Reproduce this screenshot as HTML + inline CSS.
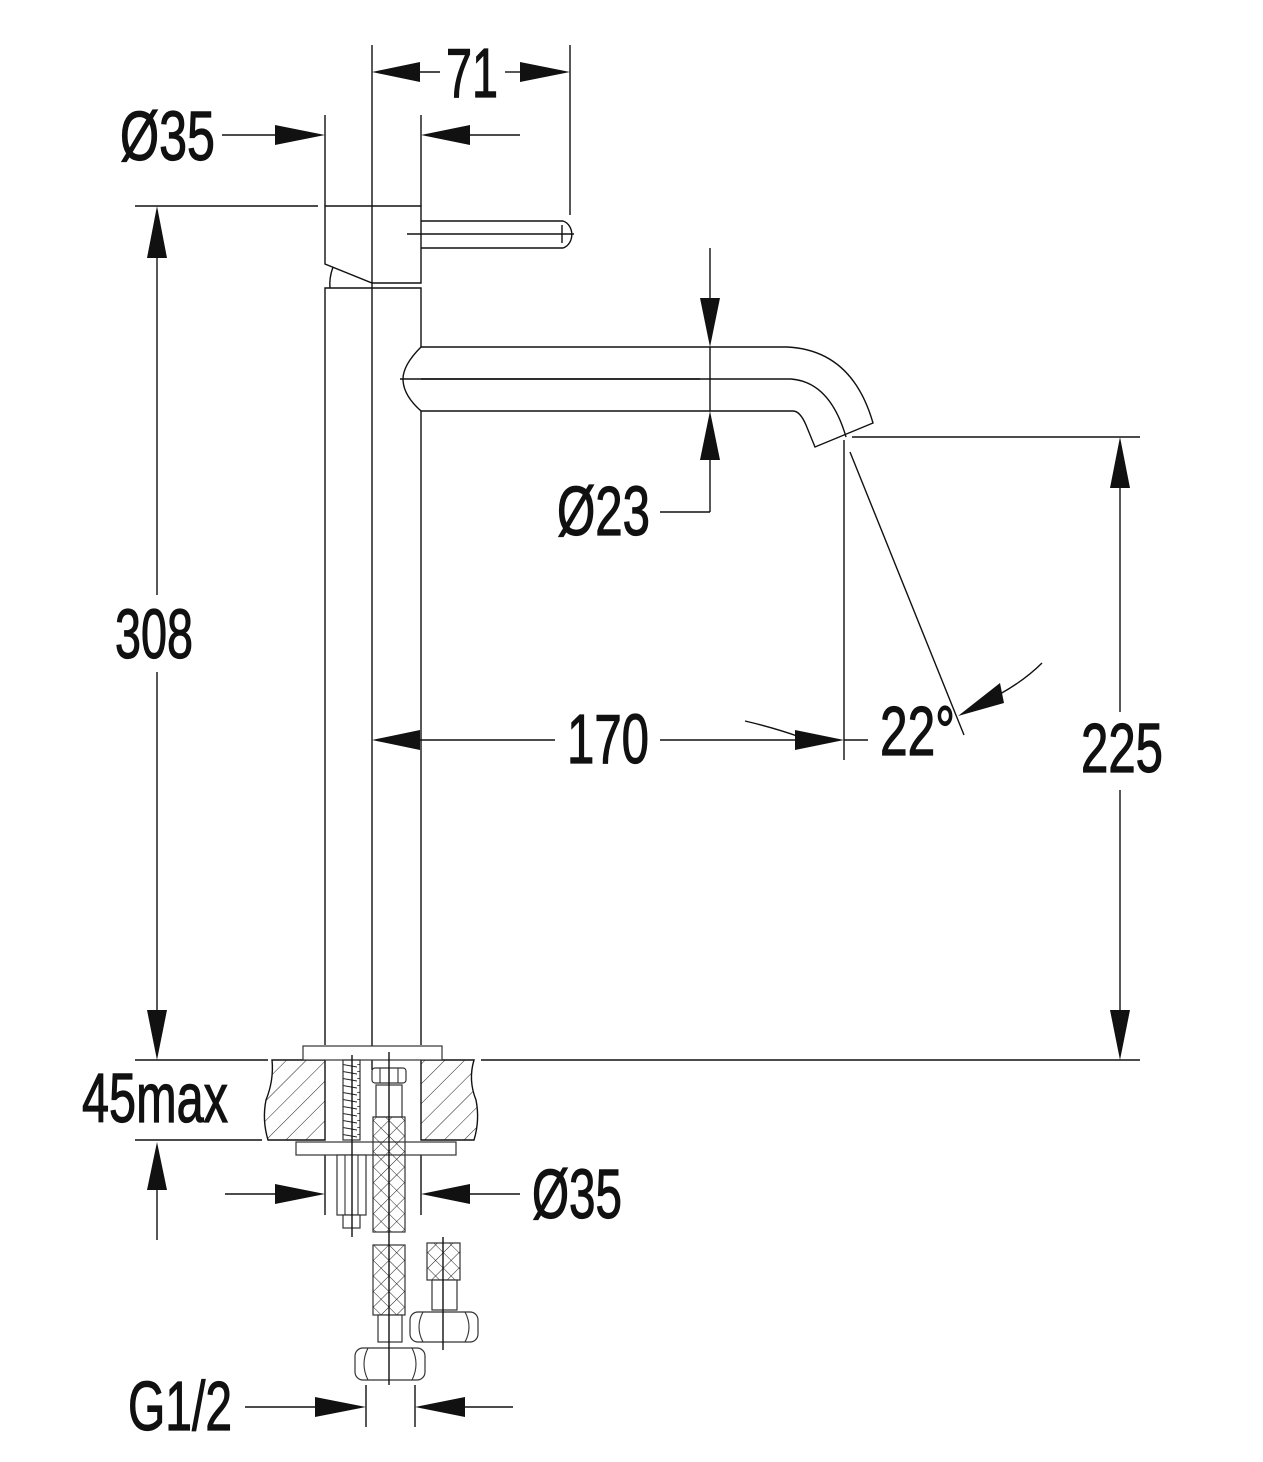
<!DOCTYPE html>
<html><head><meta charset="utf-8"><style>html,body{margin:0;padding:0;background:#fff}svg{display:block}</style></head>
<body>
<svg width="1263" height="1462" viewBox="0 0 1263 1462" xmlns="http://www.w3.org/2000/svg">
<defs>
<pattern id="h" width="14" height="14" patternUnits="userSpaceOnUse" patternTransform="rotate(45)">
<line x1="0" y1="0" x2="0" y2="14" stroke="#222" stroke-width="1"/></pattern>
<pattern id="x" width="11" height="11" patternUnits="userSpaceOnUse" patternTransform="rotate(45)">
<line x1="0" y1="0" x2="0" y2="11" stroke="#222" stroke-width="1"/><line x1="0" y1="0" x2="11" y2="0" stroke="#222" stroke-width="1"/></pattern>
<pattern id="t" width="17" height="7" patternUnits="userSpaceOnUse">
<line x1="0" y1="0" x2="17" y2="3" stroke="#222" stroke-width="1"/></pattern>
</defs>
<g fill="none" stroke="#111" stroke-width="1.4">
<path d="M325 206 H421 V283 H372 L325 264 Z"/>
<path d="M421 221 H563 A12 14 0 0 1 563 248 H421"/>
<line x1="562" y1="225" x2="562" y2="243"/>
<path d="M333 267 Q329 278 330 288"/>
<path d="M325 1045 V288 H421 V347"/>
<path d="M421 411 V1045"/>
<path d="M421 347 Q403 365 403 379 Q403 395 421 411"/>
<path d="M421 347 H787 Q852 350 873 423 L815 447 L806 425 Q800 411 793 411 H421"/>
<path d="M421 379 H791 Q830 382 846 437"/>
<line x1="372" y1="45" x2="372" y2="1070"/>
<line x1="400" y1="379" x2="700" y2="379"/>
<line x1="407" y1="234" x2="574" y2="234"/>
<line x1="570" y1="45" x2="570" y2="215"/>
<line x1="420" y1="72" x2="440" y2="72"/><line x1="505" y1="72" x2="520" y2="72"/>
<line x1="325" y1="115" x2="325" y2="206"/><line x1="421" y1="115" x2="421" y2="206"/>
<line x1="222" y1="135" x2="275" y2="135"/><line x1="470" y1="135" x2="520" y2="135"/>
<line x1="135" y1="206" x2="318" y2="206"/>
<line x1="157" y1="258" x2="157" y2="595"/><line x1="157" y1="672" x2="157" y2="1010"/>
<line x1="710" y1="248" x2="710" y2="298"/><line x1="710" y1="347" x2="710" y2="411"/>
<line x1="710" y1="460" x2="710" y2="512"/><line x1="660" y1="512" x2="710" y2="512"/>
<line x1="852" y1="437" x2="1140" y2="437"/>
<line x1="1120" y1="488" x2="1120" y2="712"/><line x1="1120" y1="790" x2="1120" y2="1010"/>
<line x1="844" y1="440" x2="844" y2="760"/>
<line x1="850" y1="452" x2="964" y2="735"/>
<line x1="420" y1="740" x2="555" y2="740"/><line x1="660" y1="740" x2="795" y2="740"/>
<line x1="844" y1="740" x2="868" y2="740"/>
<path d="M745 721 Q775 728 800 737"/>
<path d="M1042 663 Q1025 680 1000 694"/>
<line x1="135" y1="1060" x2="268" y2="1060"/><line x1="481" y1="1060" x2="1140" y2="1060"/>
<line x1="135" y1="1140" x2="262" y2="1140"/>
<line x1="157" y1="1190" x2="157" y2="1240"/>
<line x1="325" y1="1155" x2="325" y2="1215"/><line x1="421" y1="1155" x2="421" y2="1215"/>
<line x1="225" y1="1194" x2="275" y2="1194"/><line x1="470" y1="1194" x2="520" y2="1194"/>
<line x1="366" y1="1385" x2="366" y2="1427"/><line x1="415" y1="1385" x2="415" y2="1427"/>
<line x1="245" y1="1407" x2="315" y2="1407"/><line x1="465" y1="1407" x2="513" y2="1407"/>
</g>
<path d="M272 1060 H325 V1140 H268 Q262 1120 266 1100 Q274 1080 272 1060 Z" fill="url(#h)" stroke="#111" stroke-width="1.4"/>
<path d="M421 1060 H474 Q468 1080 476 1100 Q480 1120 474 1140 H421 Z" fill="url(#h)" stroke="#111" stroke-width="1.4"/>
<g fill="#fff" stroke="#333" stroke-width="1.2">
<rect x="303" y="1046" width="139" height="14"/>
<rect x="296" y="1142" width="160" height="13"/>
<rect x="343" y="1060" width="17" height="80" fill="url(#t)"/>
<rect x="372" y="1068" width="34" height="15" rx="3"/>
<rect x="376" y="1085" width="26" height="32"/>
<rect x="373" y="1117" width="32" height="115" fill="url(#x)"/>
<rect x="337" y="1155" width="29" height="60"/>
<rect x="343" y="1215" width="17" height="13"/>
<rect x="373" y="1245" width="32" height="70" fill="url(#x)"/>
<rect x="378" y="1315" width="24" height="27"/>
<rect x="355" y="1348" width="70" height="32" rx="8"/>
<rect x="427" y="1243" width="33" height="37" fill="url(#x)"/>
<rect x="432" y="1280" width="25" height="30"/>
<rect x="410" y="1312" width="68" height="30" rx="8"/>
</g>
<g fill="none" stroke="#333" stroke-width="1.1">
<path d="M368 1348 Q360 1364 368 1380 M412 1348 Q420 1364 412 1380"/>
<path d="M423 1312 Q415 1327 423 1342 M465 1312 Q473 1327 465 1342"/>
<path d="M380 1068 V1083 M398 1068 V1083"/>
<path d="M345 1155 V1215 M358 1155 V1215"/>
</g>
<line x1="389" y1="1052" x2="389" y2="1385" stroke="#111" stroke-width="1.4"/>
<line x1="443" y1="1237" x2="443" y2="1350" stroke="#111" stroke-width="1.4"/>
<line x1="352" y1="1055" x2="352" y2="1237" stroke="#111" stroke-width="1.4"/>
<g fill="#111">
<polygon points="372,72 420,62 420,82"/><polygon points="570,72 520,62 520,82"/>
<polygon points="325,135 275,125 275,145"/><polygon points="421,135 470,125 470,145"/>
<polygon points="157,206 147,258 167,258"/><polygon points="157,1060 147,1010 167,1010"/>
<polygon points="710,347 700,298 720,298"/><polygon points="710,411 700,460 720,460"/>
<polygon points="1120,437 1110,488 1130,488"/><polygon points="1120,1060 1110,1010 1130,1010"/>
<polygon points="372,740 420,730 420,750"/><polygon points="844,740 795,730 795,750"/>
<polygon points="958,716 1000,683 1004,703"/>
<polygon points="157,1142 147,1190 167,1190"/>
<polygon points="325,1194 275,1184 275,1204"/><polygon points="421,1194 470,1184 470,1204"/>
<polygon points="366,1407 315,1397 315,1417"/><polygon points="415,1407 465,1397 465,1417"/>
</g>
<g font-family="Liberation Sans, sans-serif" font-size="70" fill="#111" stroke="#111" stroke-width="1.2">
<text x="446" y="97" textLength="52" lengthAdjust="spacingAndGlyphs">71</text>
<text x="120" y="160" textLength="95" lengthAdjust="spacingAndGlyphs">Ø35</text>
<text x="115" y="658" textLength="78" lengthAdjust="spacingAndGlyphs">308</text>
<text x="557" y="535" textLength="93" lengthAdjust="spacingAndGlyphs">Ø23</text>
<text x="567" y="763" textLength="82" lengthAdjust="spacingAndGlyphs">170</text>
<text x="880" y="755" textLength="75" lengthAdjust="spacingAndGlyphs">22°</text>
<text x="1081" y="772" textLength="82" lengthAdjust="spacingAndGlyphs">225</text>
<text x="82" y="1122" textLength="146" lengthAdjust="spacingAndGlyphs">45max</text>
<text x="532" y="1218" textLength="90" lengthAdjust="spacingAndGlyphs">Ø35</text>
<text x="128" y="1430" textLength="104" lengthAdjust="spacingAndGlyphs">G1/2</text>
</g>
</svg>
</body></html>
